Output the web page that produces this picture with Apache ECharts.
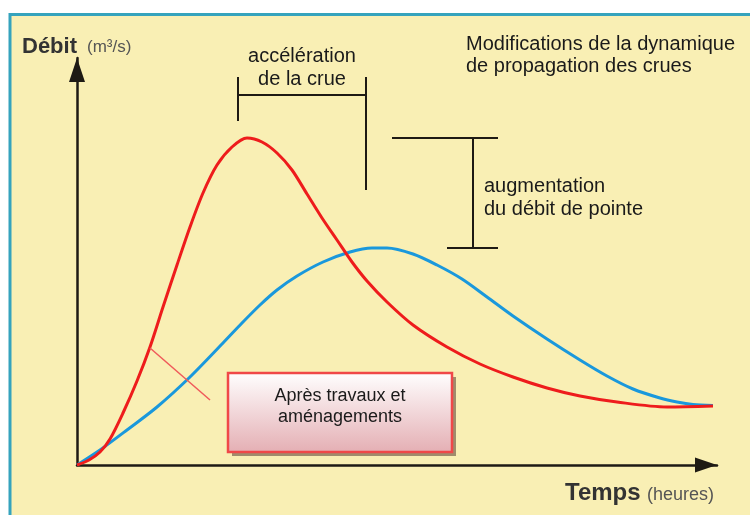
<!DOCTYPE html>
<html><head><meta charset="utf-8">
<script src="https://cdn.jsdelivr.net/npm/echarts@6/dist/echarts.min.js"></script>
<style>html,body{margin:0;padding:0;background:#fff}#c{width:750px;height:515px}</style>
</head><body><div id="c"></div>
<script>
// Time (arbitrary units, 0..640) and discharge (arbitrary units, 0..407)
const redX  = [0,12,23,33,46,60,73,86,100,113,126,140,155,170,185,200,215,230,245,260,275,290,310,336,370,403,436,470,503,540,590,636];
const redY  = [0,5,13,26,52,84,118,158,200,238,272,300,318,327,323,312,295,271,247,225,203,184,163,140,118,101,88,77,69,63,58,59];
const blueX = [0,23,50,80,113,146,165,183,200,220,246,273,295,310,336,360,385,410,436,470,503,530,556,583,600,616,636];
const blueY = [0,15,35,58,88,122,142,160,175,189,203,213,217,217,211,200,186,168,149,126,105,89,76,67,63,60.5,59.5];
const xMax = 640, yMax = 407;

const toPairs = (xs, ys) => xs.map((x, i) => [x, ys[i]]);
const chart = echarts.init(document.getElementById('c'), null, {renderer: 'canvas'});
const F = '"Liberation Sans", Arial, sans-serif';
const ink = '#1e1a14';
function txt(text, x, y, size, opts) {
  opts = opts || {};
  return {type: 'text', z: 100, style: {text: text, x: x, y: y, fill: opts.fill || '#1a1a1a',
    font: (opts.bold ? 'bold ' : '') + size + 'px ' + F, textAlign: opts.align || 'left', textVerticalAlign: 'middle'}};
}
function seg(x1, y1, x2, y2, w, c) {
  return {type: 'line', z: 100, shape: {x1: x1, y1: y1, x2: x2, y2: y2}, style: {stroke: c || ink, lineWidth: w || 2}};
}
chart.setOption({
  animation: false,
  backgroundColor: '#ffffff',
  grid: {left: 77, right: 33, top: 58, bottom: 50},
  xAxis: {type: 'value', min: 0, max: xMax, splitLine: {show: false}, axisTick: {show: false}, axisLabel: {show: false},
    axisLine: {onZero: false, lineStyle: {color: ink, width: 2.5}, symbol: ['none', 'triangle'], symbolSize: [15, 22], symbolOffset: [0, -11]}},
  yAxis: {type: 'value', min: 0, max: yMax, splitLine: {show: false}, axisTick: {show: false}, axisLabel: {show: false},
    axisLine: {show: true, onZero: false, lineStyle: {color: ink, width: 2.5}, symbol: ['none', 'triangle'], symbolSize: [16, 24], symbolOffset: [0, -12]}},
  series: [
    {type: 'line', data: toPairs(blueX, blueY), smooth: 0.3, showSymbol: false, symbol: 'none', lineStyle: {color: '#1a98dc', width: 3}, z: 3},
    {type: 'line', data: toPairs(redX, redY), smooth: 0.3, showSymbol: false, symbol: 'none', lineStyle: {color: '#ee1c1c', width: 3}, z: 4}
  ],
  graphic: [
    {type: 'rect', z: -100, shape: {x: 10, y: 14.5, width: 760, height: 520}, style: {fill: '#f9efb4', stroke: '#35a3bd', lineWidth: 3}},
    txt('Débit', 22, 47, 22, {bold: true, fill: '#333'}),
    txt('(m³/s)', 87, 47, 17, {fill: '#555'}),
    txt('Temps', 565, 493, 24, {bold: true, fill: '#333'}),
    txt('(heures)', 647, 495, 18, {fill: '#555'}),
    txt('accélération', 302, 56, 20, {align: 'center'}),
    txt('de la crue', 302, 79, 20, {align: 'center'}),
    txt('Modifications de la dynamique', 466, 44, 20),
    txt('de propagation des crues', 466, 66, 20),
    txt('augmentation', 484, 186, 20),
    txt('du débit de pointe', 484, 209, 20),
    seg(238, 77, 238, 121), seg(238, 95, 366, 95), seg(366, 77, 366, 190),
    seg(392, 138, 498, 138), seg(473, 138, 473, 248), seg(447, 248, 498, 248),
    seg(150, 348, 210, 400, 1.5, '#f05a5a'),
    {type: 'rect', z: 99, shape: {x: 232, y: 377, width: 224, height: 79}, style: {fill: '#a08c6c'}},
    {type: 'rect', z: 100, shape: {x: 228, y: 373, width: 224, height: 79},
      style: {fill: new echarts.graphic.LinearGradient(0, 0, 0, 1, [{offset: 0, color: '#ffffff'}, {offset: 1, color: '#e4aeb3'}]), stroke: '#f04848', lineWidth: 2.5}},
    txt('Après travaux et', 340, 396, 18, {align: 'center'}),
    txt('aménagements', 340, 417, 18, {align: 'center'})
  ]
});
</script></body></html>
